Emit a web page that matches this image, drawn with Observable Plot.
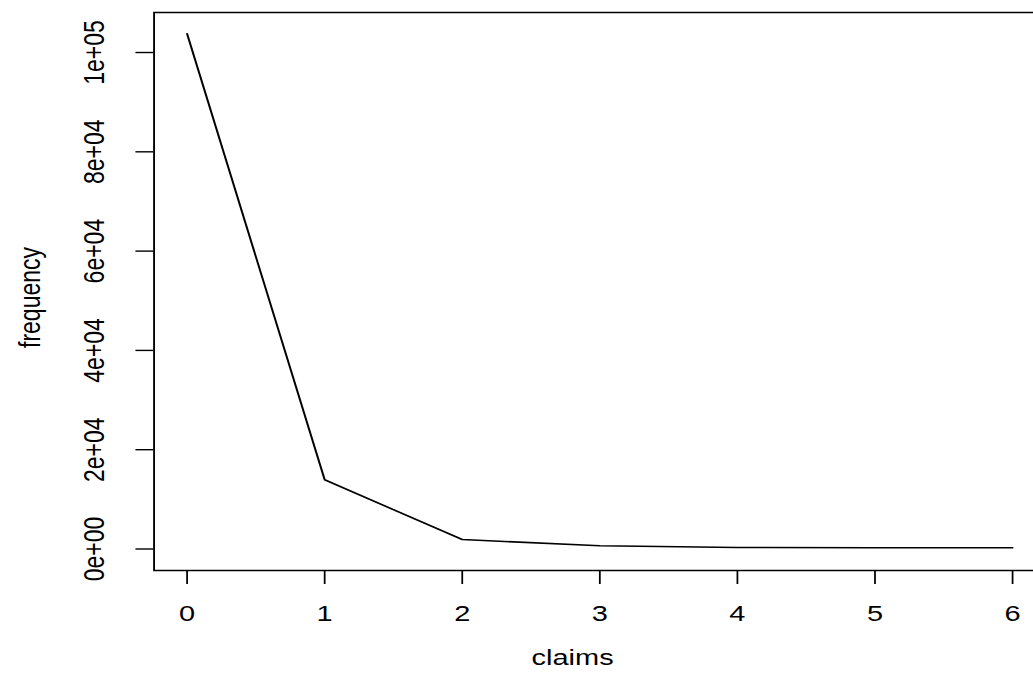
<!DOCTYPE html>
<html><head><meta charset="utf-8">
<script src="https://cdn.jsdelivr.net/npm/d3@7"></script>
<script src="https://cdn.jsdelivr.net/npm/@observablehq/plot@0.6"></script>
<style>
html,body{margin:0;padding:0;background:#fff;overflow:hidden}
#chart svg{display:block}
</style></head><body><div id="chart"></div>
<script>
// Data
const claims = [0, 1, 2, 3, 4, 5, 6];
const frequency = [103770, 13940, 1900, 650, 300, 250, 250];
const xTicks = [0, 1, 2, 3, 4, 5, 6];
const yTicks = [0, 20000, 40000, 60000, 80000, 100000];
const yTickLabels = ["0e+00", "2e+04", "4e+04", "6e+04", "8e+04", "1e+05"];
const xLabel = "claims";
const yLabel = "frequency";

const data = claims.map((c, i) => ({claims: c, frequency: frequency[i]}));

// The reference is a scan stretched horizontally; draw at a narrower width
// and stretch the SVG to the 1033px page width.
const W = 820, H = 680, OUT_W = 1033;
const font = "'Liberation Sans', Arial, Helvetica, sans-serif";
const fs = 23;

const plot = Plot.plot({
  width: W, height: H,
  marginLeft: 121.8, marginRight: -9.5, marginTop: 12, marginBottom: 110,
  style: {fontFamily: font, fontSize: fs + "px", color: "#000", background: "#fff", overflow: "hidden"},
  x: {domain: [-0.24, 6.24]},
  y: {domain: [-4330, 108060]},
  marks: [
    Plot.line(data, {x: "claims", y: "frequency", stroke: "#000", strokeWidth: 1.6}),
    Plot.frame({stroke: "#000", strokeWidth: 1.5}),
    Plot.axisX({ticks: xTicks, tickSize: 14, tickPadding: 20, tickFormat: d => String(d),
      fontSize: fs, stroke: "#000", strokeWidth: 1.4, label: null}),
    Plot.axisY({ticks: yTicks, tickSize: 14.3, tickFormat: () => "", stroke: "#000", strokeWidth: 1.4, label: null}),
    Plot.text(yTicks, {y: d => d, text: (d, i) => yTickLabels[i], frameAnchor: "left", dx: -47.2,
      rotate: -90, textAnchor: "middle", lineAnchor: "middle", fontSize: fs, fill: "#000"}),
    Plot.text([xLabel], {text: d => d, frameAnchor: "bottom", dx: -21.6, dy: 87,
      textAnchor: "middle", lineAnchor: "middle", fontSize: fs, fill: "#000"}),
    Plot.text([yLabel], {text: d => d, frameAnchor: "left", dx: -98, dy: 6, rotate: -90,
      textAnchor: "middle", lineAnchor: "middle", fontSize: fs, fill: "#000"})
  ]
});

plot.setAttribute("preserveAspectRatio", "none");
plot.setAttribute("width", OUT_W);
plot.setAttribute("height", H);
plot.style.width = OUT_W + "px";
plot.style.height = H + "px";
plot.style.maxWidth = "none";
document.getElementById("chart").appendChild(plot);
</script>
</body></html>
